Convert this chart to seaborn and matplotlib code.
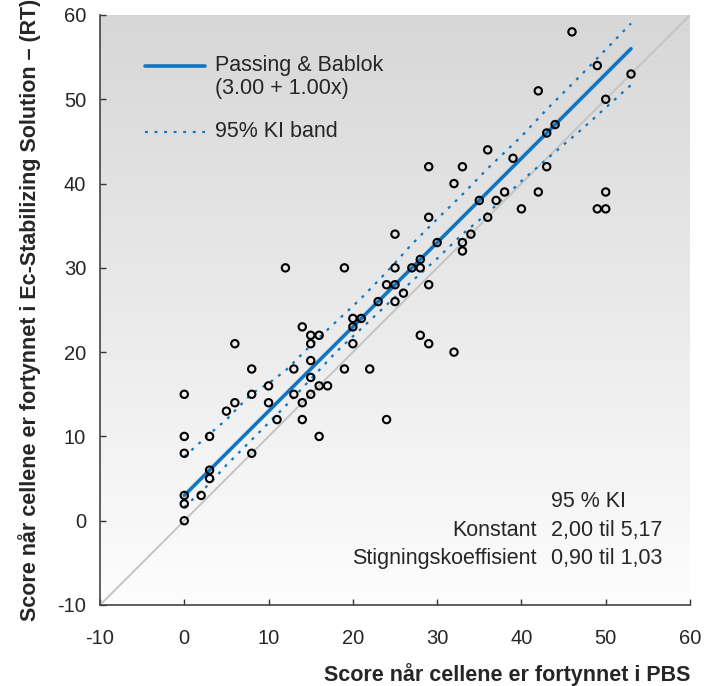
import numpy as np
import pandas as pd
import matplotlib
matplotlib.use("Agg")
import matplotlib.pyplot as plt
import seaborn as sns
from matplotlib.colors import LinearSegmentedColormap

# ---------------- data ----------------
pbs = [0, 0, 0, 2, 3, 3, 0, 8, 0, 3, 0, 5, 6, 8, 8, 6, 11, 10, 10, 13,
       13, 14, 14, 15, 15, 15, 15, 15, 14, 16, 16, 17, 16, 19, 22, 20, 20, 20, 21, 23,
       24, 25, 25, 26, 29, 28, 29, 32, 24, 19, 25, 27, 28, 28, 25, 30, 29, 32, 29, 33,
       33, 33, 34, 35, 36, 36, 12, 37, 38, 39, 40, 42, 42, 43, 43, 44, 46, 49, 49, 50,
       50, 50, 53]
ecs = [0, 2, 3, 3, 5, 6, 8, 8, 10, 10, 15, 13, 14, 15, 18, 21, 12, 14, 16, 15,
       18, 14, 12, 15, 17, 19, 21, 22, 23, 22, 16, 16, 10, 18, 18, 21, 23, 24, 24, 26,
       28, 28, 26, 27, 28, 22, 21, 20, 12, 30, 30, 30, 30, 31, 34, 33, 36, 40, 42, 42,
       33, 32, 34, 38, 36, 44, 30, 38, 39, 43, 37, 39, 51, 42, 46, 47, 58, 54, 37, 37,
       39, 50, 53]

fit_intercept = 3.00
fit_slope = 1.00

band_x = [0, 3, 5, 8, 10, 12, 15, 18, 21, 24, 27, 30, 33, 36, 40, 43, 47, 50, 53]
band_upper = [7.6, 10.3, 12.0, 15.1, 16.3, 17.8, 20.8, 23.6, 26.4, 29.5, 32.8, 35.8,
              38.7, 41.8, 45.6, 48.8, 52.8, 55.9, 59.0]
band_lower = [1.6, 4.4, 6.6, 9.6, 11.6, 13.6, 16.8, 20.0, 22.8, 25.6, 28.4, 31.1,
              34.0, 36.5, 40.3, 42.9, 46.3, 49.0, 51.7]

x_ticks = [-10, 0, 10, 20, 30, 40, 50, 60]
y_ticks = [-10, 0, 10, 20, 30, 40, 50, 60]

legend_fit = "Passing & Bablok"
legend_fit_eq = "(3.00 + 1.00x)"
legend_band = "95% KI band"
ci_header = "95 % KI"
ci_rows = ["Konstant", "Stigningskoeffisient"]
ci_vals = ["2,00 til 5,17", "0,90 til 1,03"]

xlabel = "Score når cellene er fortynnet i PBS"
ylabel = "Score når cellene er fortynnet i Ec-Stabilizing Solution – (RT)"

# ---------------- style ----------------
sns.set_theme(style="ticks")
plt.rcParams["font.family"] = ["Liberation Sans", "DejaVu Sans"]

BLUE = "#1176bf"
FS = 15.5

fig = plt.figure(figsize=(7.15, 6.86), dpi=100)
ax = fig.add_axes([100 / 715, 1 - 605 / 686, 590 / 715, 590 / 686])

# background gradient (grey at top to white at bottom)
cmap = LinearSegmentedColormap.from_list("bg", ["#fdfdfd", "#d7d7d7"])
ax.imshow(np.linspace(0, 1, 256).reshape(-1, 1), cmap=cmap, origin="lower",
          extent=[0, 1, 0, 1], transform=ax.transAxes, aspect="auto", zorder=0)

# identity line
ax.axline((0, 0), slope=1, color="#c4c4c4", lw=1.4, zorder=1)

df = pd.DataFrame({"pbs": pbs, "ecs": ecs})
fit_x = np.array([min(pbs), max(pbs)], dtype=float)
fit_df = pd.DataFrame({"x": fit_x, "y": fit_intercept + fit_slope * fit_x})
band_df = pd.DataFrame({"x": band_x, "upper": band_upper, "lower": band_lower})

DOT = (0, (1.3, 3.0))
sns.lineplot(data=band_df, x="x", y="upper", ax=ax, color=BLUE, lw=1.6,
             linestyle=DOT, zorder=2)
sns.lineplot(data=band_df, x="x", y="lower", ax=ax, color=BLUE, lw=1.6,
             linestyle=DOT, zorder=2)
sns.lineplot(data=fit_df, x="x", y="y", ax=ax, color=BLUE, lw=2.6, zorder=3)

sns.scatterplot(data=df, x="pbs", y="ecs", ax=ax, marker="o", s=28,
                facecolor="none", edgecolor="black", linewidth=1.5, zorder=4)

ax.set_xlim(-10, 60)
ax.set_ylim(-10, 60)
ax.set_xticks(x_ticks)
ax.set_yticks(y_ticks)
ax.set_xticklabels([str(t) for t in x_ticks], fontsize=FS - 1)
ax.set_yticklabels([str(t) for t in y_ticks], fontsize=FS - 1)
ax.tick_params(direction="in", length=4, width=1.0, color="#333333", pad=10)
ax.tick_params(axis="x", pad=17)

for s in ["top", "right"]:
    ax.spines[s].set_visible(False)
for s in ["left", "bottom"]:
    ax.spines[s].set_color("#444444")
    ax.spines[s].set_linewidth(1.2)

ax.set_xlabel(xlabel, fontsize=FS, fontweight="bold", loc="right", labelpad=11)
ax.set_ylabel(ylabel, fontsize=FS, fontweight="bold", labelpad=12)

# legend (manual, in axes fraction)
ax.plot([0.076, 0.178], [0.9136, 0.9136], transform=ax.transAxes, color=BLUE, lw=2.6)
ax.text(0.195, 0.9136, legend_fit, transform=ax.transAxes, fontsize=FS, va="center")
ax.text(0.195, 0.875, legend_fit_eq, transform=ax.transAxes, fontsize=FS, va="center")
ax.plot([0.076, 0.178], [0.8017, 0.8017], transform=ax.transAxes, color=BLUE, lw=1.6,
        linestyle=DOT)
ax.text(0.195, 0.8017, legend_band, transform=ax.transAxes, fontsize=FS, va="center")

# CI table
ax.text(0.764, 0.1746, ci_header, transform=ax.transAxes, fontsize=FS, va="center", ha="left")
for i, (r, v) in enumerate(zip(ci_rows, ci_vals)):
    yy = [0.1271, 0.0780][i]
    ax.text(0.740, yy, r, transform=ax.transAxes, fontsize=FS, va="center", ha="right")
    ax.text(0.764, yy, v, transform=ax.transAxes, fontsize=FS, va="center", ha="left")

fig.savefig("out.png", dpi=100)
